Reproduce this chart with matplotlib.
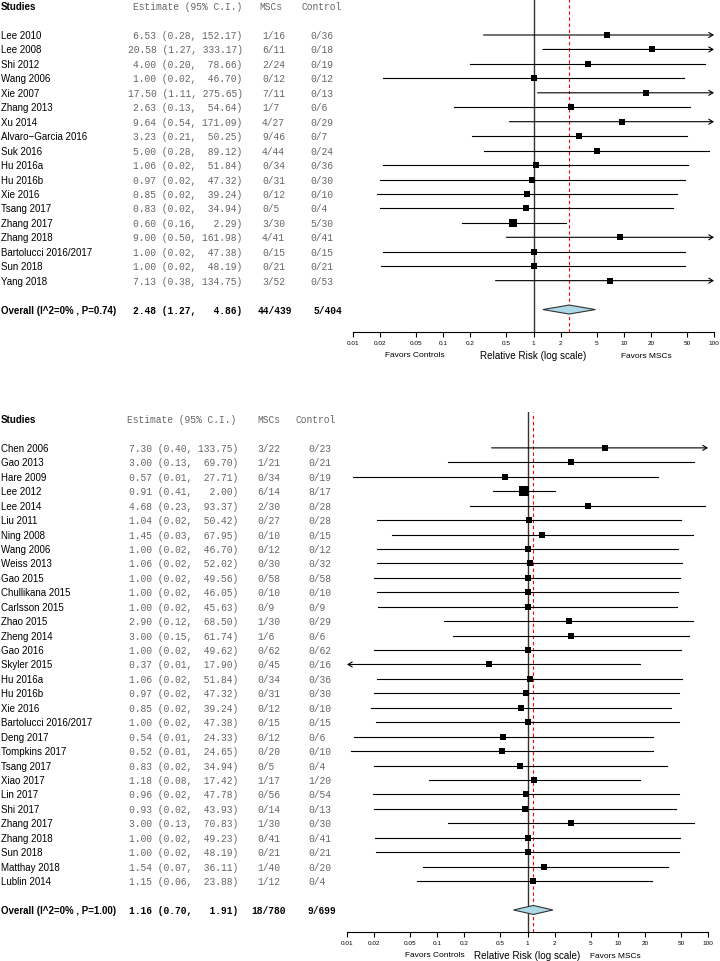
import matplotlib
matplotlib.use("Agg")
import numpy as np
import matplotlib.pyplot as plt
from matplotlib.patches import Polygon
from matplotlib.ticker import NullLocator

# ---- data: panel 1 ----
studies1 = ["Lee 2010", "Lee 2008", "Shi 2012", "Wang 2006", "Xie 2007", "Zhang 2013",
            "Xu 2014", "Alvaro\u2212Garcia 2016", "Suk 2016", "Hu 2016a", "Hu 2016b",
            "Xie 2016", "Tsang 2017", "Zhang 2017", "Zhang 2018", "Bartolucci 2016/2017",
            "Sun 2018", "Yang 2018"]
est1 = [6.53, 20.58, 4.00, 1.00, 17.50, 2.63, 9.64, 3.23, 5.00, 1.06, 0.97, 0.85,
        0.83, 0.60, 9.00, 1.00, 1.00, 7.13]
lo1 = [0.28, 1.27, 0.20, 0.0217, 1.11, 0.13, 0.54, 0.21, 0.28, 0.0217, 0.0199, 0.0183,
       0.0199, 0.16, 0.50, 0.0213, 0.0206, 0.38]
hi1 = [152.17, 333.17, 78.66, 46.70, 275.65, 54.64, 171.09, 50.25, 89.12, 51.84, 47.32,
       39.24, 34.94, 2.29, 161.98, 47.38, 48.19, 134.75]
msc1 = ["1/16", "6/11", "2/24", "0/12", "7/11", "1/7", "4/27", "9/46", "4/44", "0/34",
        "0/31", "0/12", "0/5", "3/30", "4/41", "0/15", "0/21", "3/52"]
ctl1 = ["0/36", "0/18", "0/19", "0/12", "0/13", "0/6", "0/29", "0/7", "0/24", "0/36",
        "0/30", "0/10", "0/4", "5/30", "0/41", "0/15", "0/21", "0/53"]
overall1 = dict(label="Overall (I^2=0% , P=0.74)", est=2.48, lo=1.27, hi=4.86,
                msc="44/439", ctl="5/404")

# ---- data: panel 2 ----
studies2 = ["Chen 2006", "Gao 2013", "Hare 2009", "Lee 2012", "Lee 2014", "Liu 2011",
            "Ning 2008", "Wang 2006", "Weiss 2013", "Gao 2015", "Chullikana 2015",
            "Carlsson 2015", "Zhao 2015", "Zheng 2014", "Gao 2016", "Skyler 2015",
            "Hu 2016a", "Hu 2016b", "Xie 2016", "Bartolucci 2016/2017", "Deng 2017",
            "Tompkins 2017", "Tsang 2017", "Xiao 2017", "Lin 2017", "Shi 2017",
            "Zhang 2017", "Zhang 2018", "Sun 2018", "Matthay 2018", "Lublin 2014"]
est2 = [7.30, 3.00, 0.57, 0.91, 4.68, 1.04, 1.45, 1.00, 1.06, 1.00, 1.00, 1.00, 2.90,
        3.00, 1.00, 0.37, 1.06, 0.97, 0.85, 1.00, 0.54, 0.52, 0.83, 1.18, 0.96, 0.93,
        3.00, 1.00, 1.00, 1.54, 1.15]
lo2 = [0.40, 0.13, 0.0118, 0.41, 0.23, 0.0213, 0.0313, 0.0213, 0.0217, 0.0201, 0.0217,
       0.0222, 0.12, 0.15, 0.0201, 0.008, 0.0217, 0.0199, 0.0183, 0.0211, 0.0120,
       0.0111, 0.0199, 0.08, 0.0196, 0.0199, 0.13, 0.0204, 0.0208, 0.07, 0.06]
hi2 = [133.75, 69.70, 27.71, 2.00, 93.37, 50.42, 67.95, 46.70, 52.02, 49.56, 46.05,
       45.63, 68.50, 61.74, 49.62, 17.90, 51.84, 47.32, 39.24, 47.38, 24.33, 24.65,
       34.94, 17.42, 47.78, 43.93, 70.83, 49.23, 48.19, 36.11, 23.88]
msc2 = ["3/22", "1/21", "0/34", "6/14", "2/30", "0/27", "0/10", "0/12", "0/30", "0/58",
        "0/10", "0/9", "1/30", "1/6", "0/62", "0/45", "0/34", "0/31", "0/12", "0/15",
        "0/12", "0/20", "0/5", "1/17", "0/56", "0/14", "1/30", "0/41", "0/21", "1/40",
        "1/12"]
ctl2 = ["0/23", "0/21", "0/19", "8/17", "0/28", "0/28", "0/15", "0/12", "0/32", "0/58",
        "0/10", "0/9", "0/29", "0/6", "0/62", "0/16", "0/36", "0/30", "0/10", "0/15",
        "0/6", "0/10", "0/4", "1/20", "0/54", "0/13", "0/30", "0/41", "0/21", "0/20",
        "0/4"]
overall2 = dict(label="Overall (I^2=0% , P=1.00)", est=1.16, lo=0.70, hi=1.91,
                msc="18/780", ctl="9/699")

ticks = [0.01, 0.02, 0.05, 0.1, 0.2, 0.5, 1, 2, 5, 10, 20, 50, 100]
tick_labels = ["0.01", "0.02", "0.05", "0.1", "0.2", "0.5", "1", "2", "5", "10", "20", "50", "100"]

W, H = 720, 962
fig = plt.figure(figsize=(W / 100, H / 100), dpi=100)

SANS = "Liberation Sans"
MONO = "Liberation Mono"
GREY = "#666666"


def px_axes(left, top, right, bottom):
    return fig.add_axes([left / W, 1 - bottom / H, (right - left) / W, (bottom - top) / H])


def forest(names, est, lo, hi, msc, ctl, ov, lay):
    n = len(names)
    r_top = (lay["ax_top"] - lay["y0"]) / lay["dy"]
    r_bot = (lay["ax_bot"] - lay["y0"]) / lay["dy"]
    rows = np.arange(n) + 2
    ov_row = n + 3

    # text columns
    tx = px_axes(0, lay["ax_top"], W, lay["ax_bot"])
    tx.set_xlim(0, W)
    tx.set_ylim(r_bot, r_top)
    tx.axis("off")
    fs = 7
    tx.text(1, 0, "Studies", fontsize=fs, family=SANS, weight="bold", va="center")
    tx.text(lay["est_hdr"], 0, "Estimate (95% C.I.)", fontsize=6.9, family=MONO,
            color=GREY, va="center", ha="right")
    tx.text(lay["msc_hdr"], 0, "MSCs", fontsize=6.9, family=MONO, color=GREY, va="center")
    tx.text(lay["ctl_hdr"], 0, "Control", fontsize=6.9, family=MONO, color=GREY, va="center")
    for r, nm, e, l, h, m, c in zip(rows, names, est, lo, hi, msc, ctl):
        tx.text(1, r, nm, fontsize=fs, family=SANS, va="center")
        tx.text(lay["est_r"], r, f"{e:.2f} ({l:.2f}, {h:6.2f})", fontsize=6.9, family=MONO,
                color=GREY, va="center", ha="right")
        tx.text(lay["msc_x"], r, m, fontsize=6.9, family=MONO, color=GREY, va="center")
        tx.text(lay["ctl_x"], r, c, fontsize=6.9, family=MONO, color=GREY, va="center")
    tx.text(1, ov_row, ov["label"], fontsize=fs, family=SANS, weight="bold", va="center")
    tx.text(lay["est_r"], ov_row, f"{ov['est']:.2f} ({ov['lo']:.2f}, {ov['hi']:6.2f})",
            fontsize=6.9, family=MONO, weight="bold", va="center", ha="right")
    tx.text(lay["ov_msc"], ov_row, ov["msc"], fontsize=6.9, family=MONO, weight="bold", va="center")
    tx.text(lay["ov_ctl"], ov_row, ov["ctl"], fontsize=6.9, family=MONO, weight="bold", va="center")

    # plot region
    ax = px_axes(lay["ax_left"], lay["ax_top"], lay["ax_right"], lay["ax_bot"])
    ax.patch.set_alpha(0)
    ax.set_xscale("log")
    ax.set_xlim(0.01, 100)
    ax.set_ylim(r_bot, r_top)
    for s in ("left", "right", "top"):
        ax.spines[s].set_visible(False)
    ax.spines["bottom"].set_linewidth(0.8)
    ax.set_yticks([])
    ax.set_xticks(ticks)
    ax.set_xticklabels(tick_labels, family=SANS)
    ax.xaxis.set_minor_locator(NullLocator())
    ax.tick_params(axis="x", length=3.4, width=0.8, labelsize=4.6, pad=2.5)

    ax.axvline(1, color="#333333", lw=1.0, zorder=1)
    ax.axvline(ov["est"], color="red", lw=0.8, ls=(0, (3, 2.5)), zorder=1)

    est_a, lo_a, hi_a = np.array(est), np.array(lo), np.array(hi)
    se = (np.log(hi_a) - np.log(lo_a)) / (2 * 1.96)
    side_px = 4.5 + 2.3 / se
    for r, e, l, h, s in zip(rows, est_a, lo_a, hi_a, side_px):
        l_c, h_c = max(l, 0.01), min(h, 100)
        if h > 100:
            ax.annotate("", xy=(100, r), xytext=(l_c, r), annotation_clip=False,
                        arrowprops=dict(arrowstyle="->,head_length=0.5,head_width=0.3",
                                        lw=0.8, color="black", shrinkA=0, shrinkB=0,
                                        mutation_scale=6))
        elif l < 0.01:
            ax.annotate("", xy=(0.01, r), xytext=(h_c, r), annotation_clip=False,
                        arrowprops=dict(arrowstyle="->,head_length=0.5,head_width=0.3",
                                        lw=0.8, color="black", shrinkA=0, shrinkB=0,
                                        mutation_scale=6))
        else:
            ax.plot([l_c, h_c], [r, r], color="black", lw=0.8, zorder=2)
        ax.plot([e], [r], marker="s", ms=s * 0.72, color="black", mec="black",
                mew=0, zorder=3)

    hh = 4.5 / lay["dy"]
    diamond = Polygon([(ov["lo"], ov_row), (ov["est"], ov_row - hh), (ov["hi"], ov_row),
                       (ov["est"], ov_row + hh)], closed=True, facecolor="#add8e6",
                      edgecolor="#333333", lw=0.8, zorder=4)
    ax.add_patch(diamond)

    ah = lay["ax_bot"] - lay["ax_top"]
    ax.text(0.5, -23 / ah, "Relative Risk (log scale)", transform=ax.transAxes,
            fontsize=7.1, family=SANS, ha="center", va="center")
    ax.text(lay["fav_c"], -22.5 / ah, "Favors Controls", transform=ax.transAxes,
            fontsize=6, family=SANS, ha="center", va="center")
    ax.text(lay["fav_m"], -23.5 / ah, "Favors MSCs", transform=ax.transAxes,
            fontsize=6, family=SANS, ha="center", va="center")


lay1 = dict(est_r=242.5, est_hdr=242.5, msc_x=262, msc_hdr=259, ctl_x=310, ctl_hdr=302,
            ov_msc=258, ov_ctl=314, ax_left=353, ax_right=714, ax_top=0, ax_bot=333,
            y0=7.1, dy=14.45, fav_c=0.171, fav_m=0.812)
lay2 = dict(est_r=238.5, est_hdr=236.6, msc_x=257, msc_hdr=257, ctl_x=308, ctl_hdr=296,
            ov_msc=251, ov_ctl=308, ax_left=347, ax_right=708, ax_top=413, ax_bot=933,
            y0=420, dy=14.44, fav_c=0.244, fav_m=0.742)

forest(studies1, est1, lo1, hi1, msc1, ctl1, overall1, lay1)
forest(studies2, est2, lo2, hi2, msc2, ctl2, overall2, lay2)

fig.savefig("out.png", dpi=100)
